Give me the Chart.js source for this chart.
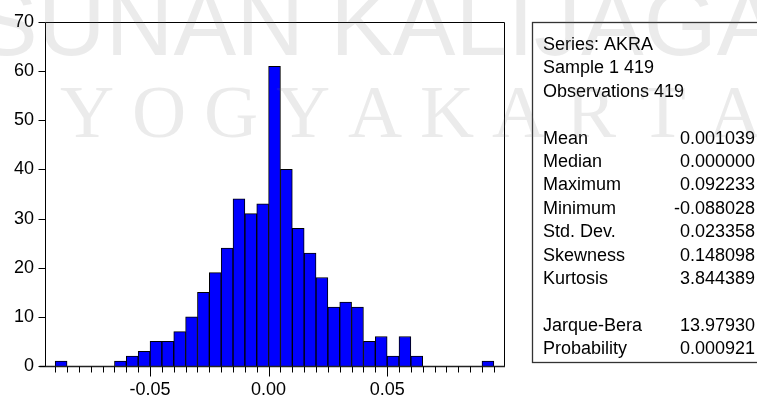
<!DOCTYPE html>
<html>
<head>
<meta charset="utf-8">
<script src="https://cdn.jsdelivr.net/npm/chart.js@4.4.1/dist/chart.umd.min.js"></script>
<style>
  html, body { margin: 0; padding: 0; background: #ffffff; overflow: hidden; }
  #wrap { width: 757px; height: 398px; position: relative; }
</style>
</head>
<body>
<div id="wrap"><canvas id="hist" width="757" height="398"></canvas></div>
<script>
// Histogram of AKRA returns: lower edge of each bin (bin width 0.005) and its frequency
const binWidth = 0.005;
const binLower = [
  -0.090, -0.085, -0.080, -0.075, -0.070, -0.065, -0.060, -0.055, -0.050, -0.045,
  -0.040, -0.035, -0.030, -0.025, -0.020, -0.015, -0.010, -0.005,  0.000,  0.005,
   0.010,  0.015,  0.020,  0.025,  0.030,  0.035,  0.040,  0.045,  0.050,  0.055,
   0.060,  0.065,  0.070,  0.075,  0.080,  0.085,  0.090
];
const counts = [
   1,  0,  0,  0,  0,  1,  2,  3,  5,  5,
   7, 10, 15, 19, 24, 34, 31, 33, 61, 40,
  28, 23, 18, 12, 13, 12,  5,  6,  2,  6,
   2,  0,  0,  0,  0,  0,  1
];

// Axis ticks
const xMajorTicks = [-0.05, 0.00, 0.05];
const xTickLabels = ['-0.05', '0.00', '0.05'];
const yTicks = [0, 10, 20, 30, 40, 50, 60, 70];
const yTickLabels = ['0', '10', '20', '30', '40', '50', '60', '70'];

// Descriptive statistics panel
const headerLines = ['Series: AKRA', 'Sample 1 419', 'Observations 419'];
const statLabels = ['Mean', 'Median', 'Maximum', 'Minimum', 'Std. Dev.', 'Skewness', 'Kurtosis'];
const statValues = ['0.001039', '0.000000', '0.092233', '-0.088028', '0.023358', '0.148098', '3.844389'];
const testLabels = ['Jarque-Bera', 'Probability'];
const testValues = ['13.97930', '0.000921'];

const FONT = '"Liberation Sans", Arial, sans-serif';

const points = binLower.map((lo, i) => ({ x: lo + binWidth / 2, y: counts[i] }));
// minor tick marks sit on every bin edge
const xEdges = binLower.concat([binLower[binLower.length - 1] + binWidth]);

const framePlugin = {
  id: 'eviewsFrame',
  afterDatasetsDraw(chart) {
    const { ctx, chartArea: ca, scales } = chart;
    const xs = scales.x, ys = scales.y;
    const L = Math.round(ca.left) + 0.5, R = Math.round(ca.right) - 0.5;
    const T = Math.round(ca.top) + 0.5, B = Math.round(ca.bottom) + 0.5;
    ctx.save();
    ctx.strokeStyle = '#000';
    ctx.lineWidth = 1;
    ctx.beginPath();
    ctx.moveTo(L, B); ctx.lineTo(L, T); ctx.lineTo(R, T); ctx.lineTo(R, B);
    ctx.stroke();
    ctx.lineWidth = 1.6;
    ctx.strokeStyle = '#222';
    ctx.beginPath();
    ctx.moveTo(L - 6, B); ctx.lineTo(R + 0.5, B);
    ctx.stroke();
    ctx.lineWidth = 1;
    ctx.strokeStyle = '#000';
    // y tick marks
    ctx.beginPath();
    yTicks.forEach(v => {
      const y = Math.round(ys.getPixelForValue(v)) + 0.5;
      ctx.moveTo(L - 7, y); ctx.lineTo(L, y);
    });
    // x tick marks: short on bin edges, long on labelled values
    xEdges.forEach(v => {
      const x = Math.round(xs.getPixelForValue(v)) + 0.5;
      const major = xMajorTicks.some(m => Math.abs(m - v) < 1e-9);
      ctx.moveTo(x, B); ctx.lineTo(x, B + (major ? 10 : 6));
    });
    ctx.stroke();
    ctx.restore();
  },
  afterDraw(chart) {
    const { ctx } = chart;
    ctx.save();
    // statistics box
    ctx.strokeStyle = '#333';
    ctx.lineWidth = 1.3;
    ctx.strokeRect(532.5, 22.5, 240, 340);
    ctx.fillStyle = '#000';
    ctx.font = '18px ' + FONT;
    ctx.textBaseline = 'alphabetic';
    const lx = 543, rx = 755, y0 = 50, lh = 23.4;
    headerLines.forEach((t, i) => { ctx.textAlign = 'left'; ctx.fillText(t, lx, y0 + i * lh); });
    statLabels.forEach((t, i) => {
      const y = y0 + (i + 4) * lh;
      ctx.textAlign = 'left'; ctx.fillText(t, lx, y);
      ctx.textAlign = 'right'; ctx.fillText(statValues[i], rx, y);
    });
    testLabels.forEach((t, i) => {
      const y = y0 + (i + 12) * lh;
      ctx.textAlign = 'left'; ctx.fillText(t, lx, y);
      ctx.textAlign = 'right'; ctx.fillText(testValues[i], rx, y);
    });

    // faint library watermark across the top of the page
    ctx.fillStyle = 'rgba(110,110,110,0.14)';
    ctx.textAlign = 'left';
    ctx.font = '94px ' + FONT;
    ctx.fillText('SUNAN KALIJAGA', -25, 55);
    ctx.font = '75px "Liberation Serif", "Times New Roman", serif';
    const word = 'YOGYAKARTA';
    for (let i = 0; i < word.length; i++) {
      ctx.textAlign = 'center';
      ctx.fillText(word[i], 87 + i * 72, 137);
    }
    ctx.restore();
  }
};

new Chart(document.getElementById('hist'), {
  type: 'bar',
  data: {
    datasets: [{
      data: points,
      backgroundColor: '#0000ff',
      borderColor: '#000000',
      borderWidth: 1,
      borderSkipped: 'start',
      barPercentage: 1,
      categoryPercentage: 1
    }]
  },
  options: {
    responsive: false,
    animation: false,
    devicePixelRatio: 1,
    layout: { padding: { top: 22, right: 252, left: 0, bottom: 0 } },
    plugins: { legend: { display: false }, tooltip: { enabled: false } },
    scales: {
      x: {
        type: 'linear',
        min: -0.0943,
        max: 0.0997,
        offset: false,
        afterBuildTicks: s => { s.ticks = xMajorTicks.map(v => ({ value: v })); },
        afterFit: s => { s.height = 32; },
        grid: { display: false, drawTicks: false },
        border: { display: false },
        ticks: {
          autoSkip: false, maxRotation: 0, minRotation: 0, padding: 13,
          color: '#000', font: { family: FONT, size: 18 },
          callback: (v, i) => xTickLabels[i]
        }
      },
      y: {
        min: 0,
        max: 70,
        afterBuildTicks: s => { s.ticks = yTicks.map(v => ({ value: v })); },
        afterFit: s => { s.width = 45; },
        grid: { display: false, drawTicks: false },
        border: { display: false },
        ticks: {
          padding: 11,
          color: '#000', font: { family: FONT, size: 18 },
          callback: (v, i) => yTickLabels[i]
        }
      }
    }
  },
  plugins: [framePlugin]
});
</script>
</body>
</html>
